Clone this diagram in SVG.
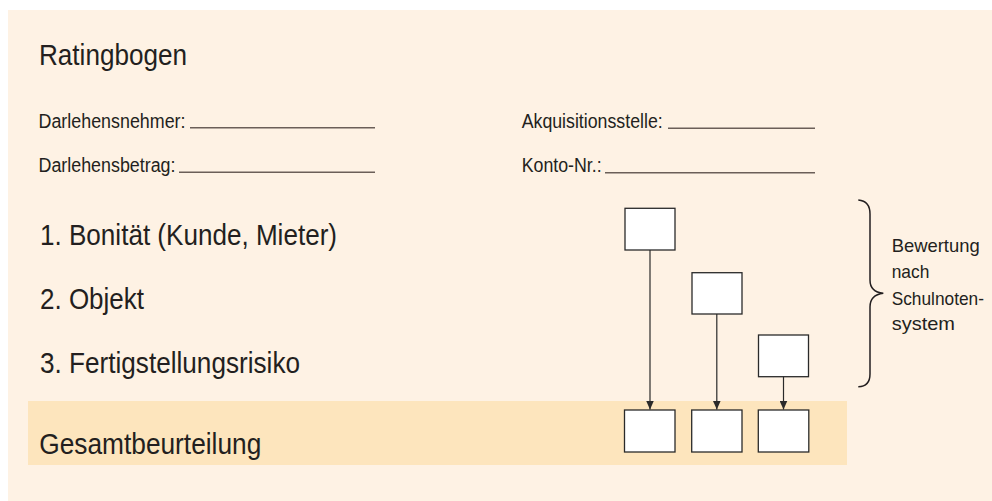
<svg xmlns="http://www.w3.org/2000/svg" width="992" height="501" viewBox="0 0 992 501">
<style>
text{font-family:"Liberation Sans",Arial,sans-serif;fill:#231f20}
.big{font-size:30px}
.sm{font-size:19.5px}
.br{font-size:18.6px}
.fill{stroke:#6b5f58;stroke-width:1.6}
.box{fill:#fff;stroke:#2a2a2a;stroke-width:1.3}
.conn{stroke:#2a2a2a;stroke-width:1.2;fill:none}
</style>
<defs>
<marker id="ah" viewBox="0 0 9 8" refX="9" refY="4" markerWidth="9" markerHeight="8" orient="auto" markerUnits="userSpaceOnUse">
<path d="M0,0 L9,4 L0,8 Z" fill="#2a2a2a"/>
</marker>
</defs>
<rect x="8" y="10" width="984" height="491" fill="#fef2e4"/>
<rect x="28" y="401" width="819" height="64" fill="#fde5bd"/>
<g id="header">
<text class="big" x="39" y="65" textLength="148" lengthAdjust="spacingAndGlyphs">Ratingbogen</text>
<text class="sm" x="38.5" y="128.3" textLength="147" lengthAdjust="spacingAndGlyphs">Darlehensnehmer:</text>
<line class="fill" x1="190" y1="127.7" x2="375" y2="127.7"/>
<text class="sm" x="38.5" y="172" textLength="137" lengthAdjust="spacingAndGlyphs">Darlehensbetrag:</text>
<line class="fill" x1="179" y1="172.3" x2="375" y2="172.3"/>
<text class="sm" x="521.7" y="128.3" textLength="141" lengthAdjust="spacingAndGlyphs">Akquisitionsstelle:</text>
<line class="fill" x1="668" y1="128.3" x2="815" y2="128.3"/>
<text class="sm" x="521.7" y="172" textLength="80" lengthAdjust="spacingAndGlyphs">Konto-Nr.:</text>
<line class="fill" x1="605" y1="172.7" x2="815" y2="172.7"/>
</g>
<g id="criteria">
<text class="big" x="40" y="245" textLength="297" lengthAdjust="spacingAndGlyphs">1. Bonität (Kunde, Mieter)</text>
<text class="big" x="40" y="309" textLength="104" lengthAdjust="spacingAndGlyphs">2. Objekt</text>
<text class="big" x="40" y="373.3" textLength="260" lengthAdjust="spacingAndGlyphs">3. Fertigstellungsrisiko</text>
<text class="big" x="39.3" y="454" textLength="222" lengthAdjust="spacingAndGlyphs">Gesamtbeurteilung</text>
</g>
<g id="box-1"><rect class="box" x="625" y="208.3" width="50" height="41.7"/></g>
<g id="box-2"><rect class="box" x="692" y="272.7" width="50" height="41.3"/></g>
<g id="box-3"><rect class="box" x="758.5" y="335" width="50" height="41.7"/></g>
<g id="total-1"><rect class="box" x="624.5" y="410" width="50.5" height="42"/></g>
<g id="total-2"><rect class="box" x="691.7" y="410" width="50.3" height="42"/></g>
<g id="total-3"><rect class="box" x="758.3" y="410" width="50.5" height="42"/></g>
<g id="connectors">
<line class="conn" x1="650" y1="250" x2="650" y2="409.5" marker-end="url(#ah)"/>
<line class="conn" x1="716.8" y1="314" x2="716.8" y2="409.5" marker-end="url(#ah)"/>
<line class="conn" x1="783.5" y1="376.7" x2="783.5" y2="409.5" marker-end="url(#ah)"/>
</g>
<g id="brace">
<path d="M858.3,200 Q870,201 870,214 L870,280 Q870,292 883.3,293.3 Q870,295 870,307 L870,374 Q870,386.5 858.3,386.7" fill="none" stroke="#231f20" stroke-width="1.5"/>
<text class="br" x="891.7" y="252" textLength="88" lengthAdjust="spacingAndGlyphs">Bewertung</text>
<text class="br" x="891.7" y="278" textLength="37.6" lengthAdjust="spacingAndGlyphs">nach</text>
<text class="br" x="891.7" y="304.5" textLength="92.3" lengthAdjust="spacingAndGlyphs">Schulnoten-</text>
<text class="br" x="891.7" y="330" textLength="63.3" lengthAdjust="spacingAndGlyphs">system</text>
</g>
</svg>
